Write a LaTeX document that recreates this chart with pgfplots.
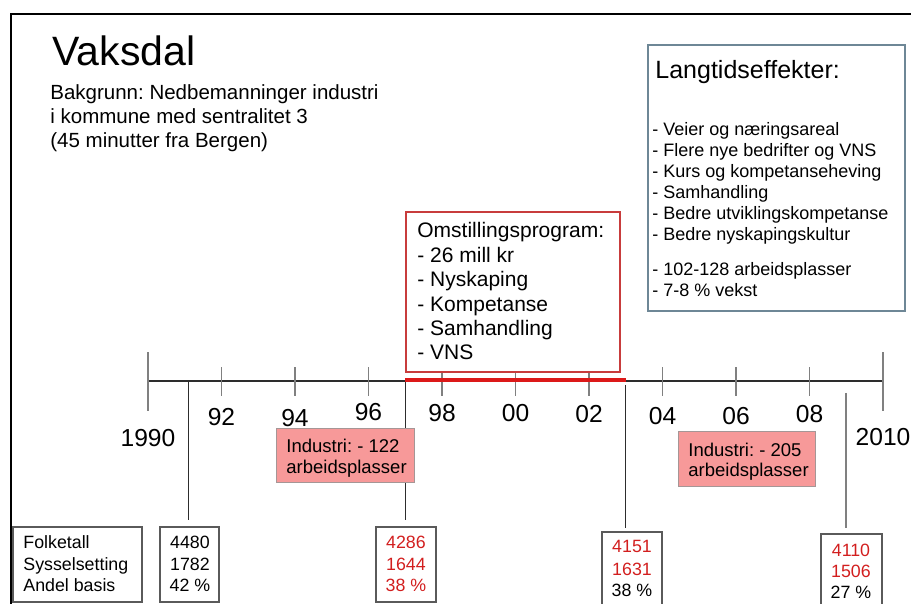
\documentclass[border=0pt]{standalone}
\usepackage{pgfplots}
\pgfplotsset{compat=1.18}
\usepackage{fontspec}
\setmainfont{Liberation Sans}
\frenchspacing

\definecolor{tickgray}{RGB}{128,128,128}
\definecolor{lineblk}{RGB}{45,45,45}
\definecolor{progred}{RGB}{220,25,25}
\definecolor{boxred}{RGB}{200,60,60}
\definecolor{txtred}{RGB}{210,30,30}
\definecolor{indfill}{RGB}{247,153,153}
\definecolor{indedge}{RGB}{165,150,150}
\definecolor{langedge}{RGB}{110,135,150}
\definecolor{boxedge}{RGB}{90,90,90}

% slide pixels -> axis units (x in years, y from the bottom)
\newcommand{\X}[1]{1990+(#1-148)/36.75}
\newcommand{\Y}[1]{604-#1}
\newcommand{\T}[4][]{\node[anchor=base west,inner sep=0pt,#1] at (axis cs:{\X{#2}},{\Y{#3}}) {#4};}
\newcommand{\C}[4][]{\node[anchor=base,inner sep=0pt,#1] at (axis cs:{\X{#2}},{\Y{#3}}) {#4};}
\newcommand{\B}[5][]{\draw[#1] (axis cs:{\X{#2}},{\Y{#3}}) rectangle (axis cs:{\X{#4}},{\Y{#5}});}

\begin{document}
\begin{tikzpicture}
\begin{axis}[
    width=455.5pt, height=302pt, scale only axis,
    xmin=1985.9728, xmax=2010.7619,
    ymin=0, ymax=604,
    hide axis, clip=false,
]
% slide frame
\draw[black, line width=1.3pt] (axis cs:{\X{11}},0) -- (axis cs:{\X{11}},{\Y{14}}) -- (axis cs:{\X{911}},{\Y{14}});

% connectors from the timeline to the figure boxes
\addplot[lineblk, line width=0.55pt, unbounded coords=jump] coordinates {
    (1991.1,223) (1991.1,84) (1991.1,nan)
    (1997.0,223) (1997.0,84) (1997.0,nan)
    (2003.0,219) (2003.0,76)
};
\addplot[tickgray, line width=0.8pt] coordinates {(2009.0,211) (2009.0,76)};

% timeline
\addplot[lineblk, line width=0.6pt] coordinates {(1990,223) (2010,223)};
\addplot[tickgray, line width=0.9pt, unbounded coords=jump] coordinates {
    (1990,193) (1990,252) (1990,nan)
    (1992,208) (1992,237) (1992,nan)
    (1994,208) (1994,237) (1994,nan)
    (1996,208) (1996,237) (1996,nan)
    (1998,208) (1998,237) (1998,nan)
    (2000,208) (2000,237) (2000,nan)
    (2002,208) (2002,237) (2002,nan)
    (2004,208) (2004,237) (2004,nan)
    (2006,208) (2006,237) (2006,nan)
    (2008,208) (2008,237) (2008,nan)
    (2010,193) (2010,252)
};
% programme period
\addplot[progred, line width=2pt] coordinates {(1997,223.5) (2003,223.5)};

% year labels
\begin{scope}[font=\fontsize{12.3}{14}\selectfont]
\node[anchor=base,inner sep=0pt] at (axis cs:1990,{\Y{447}}) {1990};
\node[anchor=base,inner sep=0pt] at (axis cs:1992,{\Y{426}}) {92};
\node[anchor=base,inner sep=0pt] at (axis cs:1994,{\Y{427}}) {94};
\node[anchor=base,inner sep=0pt] at (axis cs:1996,{\Y{421}}) {96};
\node[anchor=base,inner sep=0pt] at (axis cs:1998,{\Y{422}}) {98};
\node[anchor=base,inner sep=0pt] at (axis cs:2000,{\Y{422}}) {00};
\node[anchor=base,inner sep=0pt] at (axis cs:2002,{\Y{423}}) {02};
\node[anchor=base,inner sep=0pt] at (axis cs:2004,{\Y{425}}) {04};
\node[anchor=base,inner sep=0pt] at (axis cs:2006,{\Y{425}}) {06};
\node[anchor=base,inner sep=0pt] at (axis cs:2008,{\Y{423}}) {08};
\node[anchor=base,inner sep=0pt] at (axis cs:2010,{\Y{446}}) {2010};
\end{scope}

% title and background
\T[font=\fontsize{20.5}{24}\selectfont]{52}{66}{Vaksdal}
\begin{scope}[font=\fontsize{10.25}{12}\selectfont]
\T{50}{100}{Bakgrunn: Nedbemanninger industri}
\T{50}{124}{i kommune med sentralitet 3}
\T{50}{148}{(45 minutter fra Bergen)}
\end{scope}

% long term effects
\B[langedge, line width=0.6pt]{648}{45}{905}{311}
\T[font=\fontsize{12.5}{15}\selectfont]{655}{79}{Langtidseffekter:}
\begin{scope}[font=\fontsize{9}{11}\selectfont]
\T{652}{136}{- Veier og næringsareal}
\T{652}{157}{- Flere nye bedrifter og VNS}
\T{652}{178}{- Kurs og kompetanseheving}
\T{652}{199}{- Samhandling}
\T{652}{220}{- Bedre utviklingskompetanse}
\T{652}{241}{- Bedre nyskapingskultur}
\T{652}{276}{- 102-128 arbeidsplasser}
\T{652}{297}{- 7-8 \% vekst}
\end{scope}

% restructuring programme
\B[boxred, fill=white, line width=0.6pt]{406}{212}{620}{372}
\begin{scope}[font=\fontsize{10.5}{12.5}\selectfont]
\T{417}{238}{Omstillingsprogram:}
\T{417}{263}{- 26 mill kr}
\T{417}{287}{- Nyskaping}
\T{417}{312}{- Kompetanse}
\T{417}{336}{- Samhandling}
\T{417}{360}{- VNS}
\end{scope}

% job losses in industry
\B[indedge, fill=indfill, line width=0.5pt]{276}{429}{415}{483}
\B[indedge, fill=indfill, line width=0.5pt]{678}{432}{815}{487}
\begin{scope}[font=\fontsize{9.25}{11}\selectfont]
\T{286}{453}{Industri: - 122}
\T{286}{474}{arbeidsplasser}
\T{688}{457}{Industri: - 205}
\T{688}{477}{arbeidsplasser}
\end{scope}

% key figures
\B[boxedge, line width=0.6pt]{13}{527}{142}{602}
\B[boxedge, line width=0.6pt]{160}{527}{219}{602}
\B[boxedge, line width=0.6pt]{376}{527}{436}{602}
\draw[boxedge, line width=0.6pt] (axis cs:{\X{602}},0) -- (axis cs:{\X{602}},{\Y{532}}) -- (axis cs:{\X{662}},{\Y{532}}) -- (axis cs:{\X{662}},0);
\draw[boxedge, line width=0.6pt] (axis cs:{\X{821}},0) -- (axis cs:{\X{821}},{\Y{534}}) -- (axis cs:{\X{882}},{\Y{534}}) -- (axis cs:{\X{882}},0);
\begin{scope}[font=\fontsize{8.9}{11}\selectfont]
\T{23}{549}{Folketall}
\T{23}{571}{Sysselsetting}
\T{23}{592}{Andel basis}
\C{190}{549}{4480}
\C{190}{571}{1782}
\C{190}{592}{42 \%}
\C[text=txtred]{406}{549}{4286}
\C[text=txtred]{406}{571}{1644}
\C[text=txtred]{406}{592}{38 \%}
\C[text=txtred]{632}{553}{4151}
\C[text=txtred]{632}{576}{1631}
\C{632}{597}{38 \%}
\C[text=txtred]{851}{557}{4110}
\C[text=txtred]{851}{578}{1506}
\C{851}{599}{27 \%}
\end{scope}
\end{axis}
\pgfresetboundingbox
\path (current axis.south west) rectangle (current axis.north east);
\end{tikzpicture}
\end{document}
